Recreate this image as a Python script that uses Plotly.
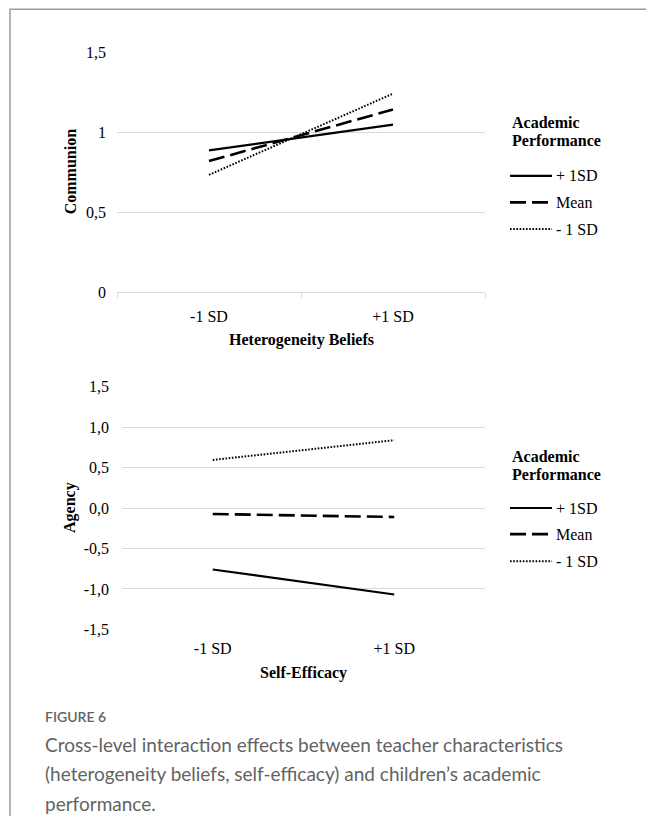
import plotly.graph_objects as go

# ---- data -------------------------------------------------------------
moderator_levels = ["-1 SD", "+1 SD"]

series_names = ["+ 1SD", "Mean", "- 1 SD"]

communion_plus1sd = [0.887, 1.048]
communion_mean = [0.820, 1.143]
communion_minus1sd = [0.734, 1.242]

agency_plus1sd = [-0.759, -1.068]
agency_mean = [-0.074, -0.111]
agency_minus1sd = [0.594, 0.838]

communion_ticks = [0, 0.5, 1, 1.5]
communion_ticktext = ["0", "0,5", "1", "1,5"]
agency_ticks = [-1.5, -1.0, -0.5, 0.0, 0.5, 1.0, 1.5]
agency_ticktext = ["-1,5", "-1,0", "-0,5", "0,0", "0,5", "1,0", "1,5"]

# ---- page geometry ----------------------------------------------------
W, H = 646, 836
VIEW_H = 816
K = VIEW_H / H      # vertical scale of the captured page
TOP = 8             # page offset above the figure

SERIF = "Liberation Serif, Times New Roman, serif"
GRID = "#d9d9d9"
line_styles = {
    "+ 1SD": dict(color="black", width=2.2, dash="solid"),
    "Mean": dict(color="black", width=2.6, dash="16px,6px"),
    "- 1 SD": dict(color="black", width=2.0, dash="1.6px,1.6px"),
}


def px(x):
    return x / W


def py(y):
    # screen row -> paper fraction
    return 1 - (y / K - TOP) / H


fig = go.Figure()

panels = [
    ("x", "y", [communion_plus1sd, communion_mean, communion_minus1sd]),
    ("x2", "y2", [agency_plus1sd, agency_mean, agency_minus1sd]),
]
for xa, ya, values in panels:
    for name, vals in zip(series_names, values):
        fig.add_trace(go.Scatter(
            x=moderator_levels, y=vals, mode="lines", name=name,
            line=line_styles[name], xaxis=xa, yaxis=ya, showlegend=False,
        ))

tick_font = dict(family=SERIF, size=16, color="black")

fig.update_layout(
    width=W, height=H, autosize=False,
    margin=dict(l=0, r=0, t=0, b=0),
    paper_bgcolor="white", plot_bgcolor="white",
    showlegend=False,
    # upper panel: Communion
    xaxis=dict(
        domain=[px(117), px(485)], anchor="y",
        type="category", range=[-0.5, 1.5],
        tickson="boundaries", ticks="outside", ticklen=5, tickcolor=GRID,
        showline=True, linecolor=GRID, linewidth=1, showgrid=False,
        tickfont=tick_font, ticklabelstandoff=10,
    ),
    yaxis=dict(
        domain=[py(291), py(52)], anchor="x",
        range=[0, 1.5], tickvals=communion_ticks, ticktext=communion_ticktext,
        showgrid=True, gridcolor=GRID, gridwidth=1, zeroline=False,
        showline=False, ticks="", tickfont=tick_font, ticklabelstandoff=10,
    ),
    # lower panel: Agency
    xaxis2=dict(
        domain=[px(122), px(485)], anchor="y2",
        type="category", range=[-0.5, 1.5],
        ticks="", showline=False, showgrid=False,
        tickfont=tick_font, ticklabelstandoff=8,
    ),
    yaxis2=dict(
        domain=[py(627), py(385)], anchor="x2",
        range=[-1.5, 1.5], tickvals=agency_ticks, ticktext=agency_ticktext,
        showgrid=True, gridcolor=GRID, gridwidth=1, zeroline=False,
        showline=False, ticks="", tickfont=tick_font, ticklabelstandoff=12,
    ),
)

bold16 = dict(family=SERIF, size=16, color="black")
ann = []

# axis titles
ann.append(dict(text="<b>Communion</b>", x=px(70), y=py(171.5), textangle=-90))
ann.append(dict(text="<b>Agency</b>", x=px(70), y=py(506), textangle=-90))
ann.append(dict(text="<b>Heterogeneity Beliefs</b>", x=px(301), y=py(339)))
ann.append(dict(text="<b>Self-Efficacy</b>", x=px(303.5), y=py(670)))

# legend blocks (one per panel)
for top in (122, 455):
    ann.append(dict(text="<b>Academic</b>", x=px(510), y=py(top), xanchor="left"))
    ann.append(dict(text="<b>Performance</b>", x=px(510), y=py(top + 18), xanchor="left"))

legend_rows = {122: [175, 201.5, 228], 455: [506, 532, 559]}
shapes = []
for top, rows in legend_rows.items():
    for name, yy in zip(series_names, rows):
        st = line_styles[name]
        shapes.append(dict(
            type="line", xref="paper", yref="paper",
            x0=px(510), x1=px(552), y0=py(yy), y1=py(yy),
            line=dict(color=st["color"], width=st["width"], dash=st["dash"]),
        ))
        ann.append(dict(text=name, x=px(554), y=py(yy), xanchor="left",
                        font=dict(family=SERIF, size=16, color="black")))

for a in ann:
    a.setdefault("xref", "paper")
    a.setdefault("yref", "paper")
    a.setdefault("showarrow", False)
    a.setdefault("font", bold16)
    a.setdefault("xanchor", "center")
    a.setdefault("yanchor", "middle")

# caption
CAP = "Lato, Open Sans, sans-serif"
ann.append(dict(text="FIGURE 6", x=px(43), y=py(714), xref="paper", yref="paper",
                showarrow=False, xanchor="left", yanchor="middle",
                font=dict(family=CAP, size=14, color="#636363", weight=600)))
caption_lines = [
    "Cross-level interaction effects between teacher characteristics",
    "(heterogeneity beliefs, self-efficacy) and children’s academic",
    "performance.",
]
for i, line in enumerate(caption_lines):
    ann.append(dict(text=line, x=px(43), y=py(742 + i * 29), xref="paper", yref="paper",
                    showarrow=False, xanchor="left", yanchor="middle",
                    font=dict(family=CAP, size=19, color="#636363")))

# outer frame, open to the right and bottom
shapes.append(dict(type="rect", xref="paper", yref="paper",
                   x0=px(10), x1=1.05, y0=-0.05, y1=py(9),
                   line=dict(color="#9a9a9a", width=1.5)))

fig.update_layout(annotations=ann, shapes=shapes)

fig.write_html("out.html")
